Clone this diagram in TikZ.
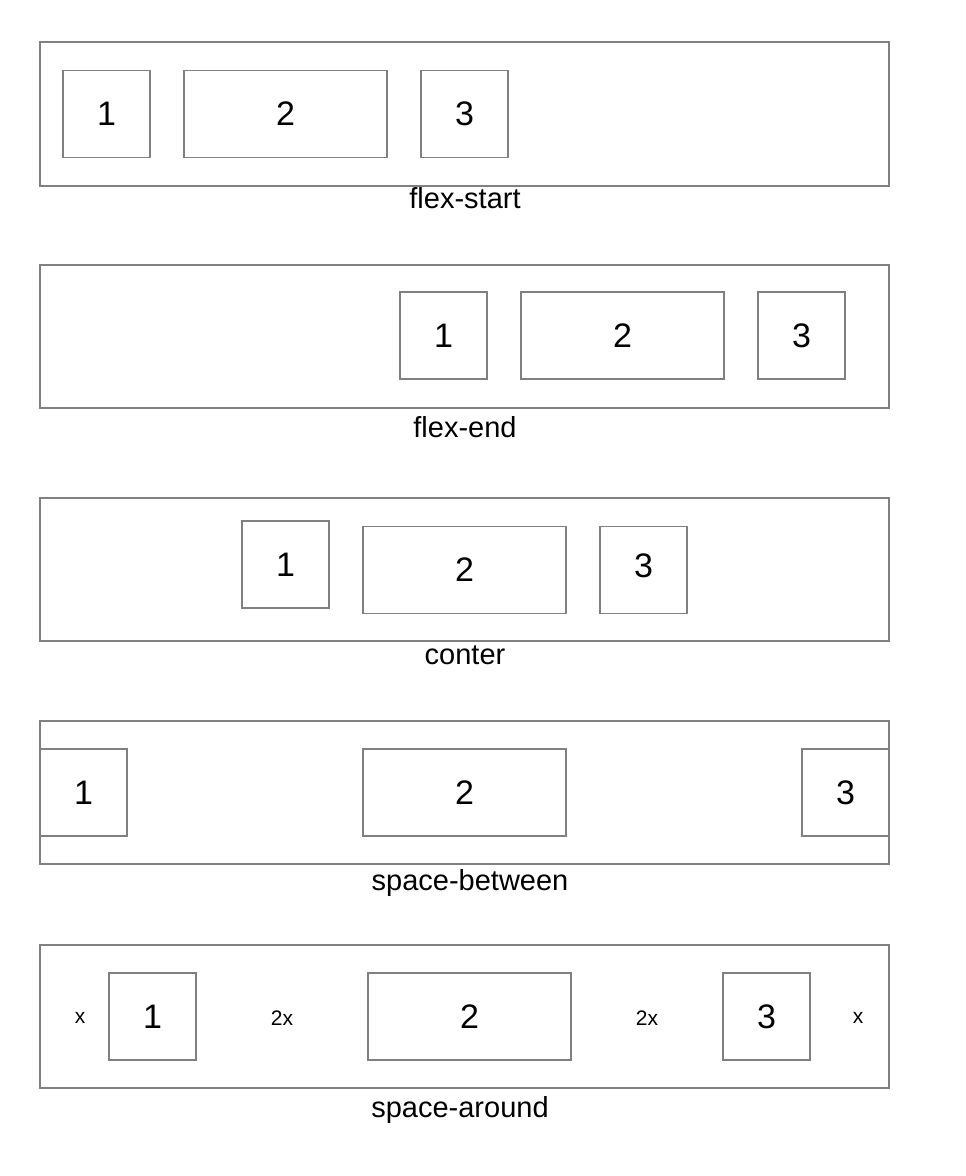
\documentclass[tikz,border=0pt]{standalone}
\usepackage{fontspec}
\setmainfont{Liberation Sans}
\definecolor{edgegray}{HTML}{808080}
\begin{document}
\begin{tikzpicture}[x=1pt,y=-1pt,
  outerbox/.style={draw=edgegray,line width=1.4pt,inner sep=0pt,minimum width=849pt,minimum height=143pt},
  sqbox/.style={draw=edgegray,line width=1.4pt,inner sep=0pt,minimum width=87pt,minimum height=87pt,font=\fontsize{34}{34}\selectfont},
  widebox/.style={draw=edgegray,line width=1.4pt,inner sep=0pt,minimum width=203pt,minimum height=87pt,font=\fontsize{34}{34}\selectfont},
  caption/.style={inner sep=0pt,font=\fontsize{29}{29}\selectfont},
  gap/.style={inner sep=0pt,font=\fontsize{21}{21}\selectfont}]
\useasboundingbox (0,0) rectangle (966,1176);
% row 1: flex-start
\node[outerbox,minimum height=144pt] (o1) at (464.5,114) {};
\node[sqbox] (a1) at (106.5,114) {1};
\node[widebox] (a2) at (285.5,114) {2};
\node[sqbox] (a3) at (464.5,114) {3};
\node[caption] (c1) at (465,198) {flex-start};
% row 2: flex-end
\node[outerbox] (o2) at (464.5,336.5) {};
\node[sqbox] (b1) at (443.5,335.5) {1};
\node[widebox] (b2) at (622.5,335.5) {2};
\node[sqbox] (b3) at (801.5,335.5) {3};
\node[caption] (c2) at (465,427) {flex-end};
% row 3: conter
\node[outerbox] (o3) at (464.5,569.5) {};
\node[sqbox] (d1) at (285.5,564.5) {1};
\node[widebox] (d2) at (464.5,570) {2};
\node[sqbox] (d3) at (643.5,570) {};
\node[inner sep=0pt,font=\fontsize{34}{34}\selectfont] (d3t) at (643.5,566) {3};
\node[caption] (c3) at (465,655) {conter};
% row 4: space-between
\node[outerbox] (o4) at (464.5,792.5) {};
\node[sqbox] (e1) at (83.5,792.5) {1};
\node[widebox] (e2) at (464.5,792.5) {2};
\node[sqbox] (e3) at (845.5,792.5) {3};
\node[caption] (c4) at (470,883) {space-between};
% row 5: space-around
\node[outerbox] (o5) at (464.5,1016.5) {};
\node[sqbox] (f1) at (152.5,1016.5) {1};
\node[widebox] (f2) at (469.5,1016.5) {2};
\node[sqbox] (f3) at (766.5,1016.5) {3};
\node[gap] (g1) at (80,1018) {x};
\node[gap] (g2) at (282,1018) {2x};
\node[gap] (g3) at (647,1018) {2x};
\node[gap] (g4) at (858,1018) {x};
\node[caption] (c5) at (460,1110) {space-around};
\end{tikzpicture}
\end{document}
